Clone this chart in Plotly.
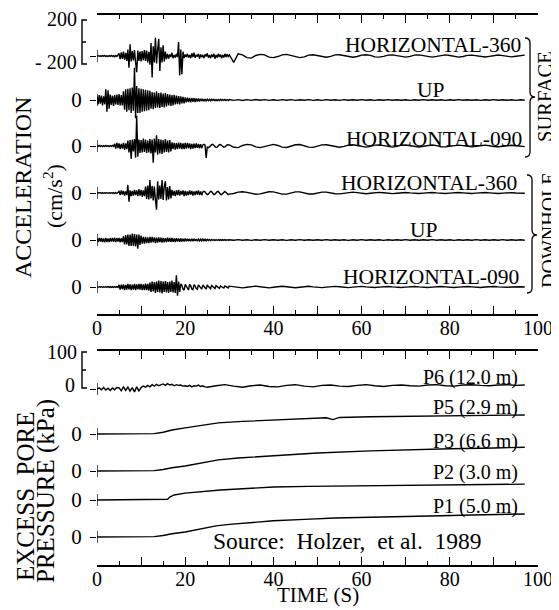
import numpy as np
import plotly.graph_objects as go

# ------------------------------------------------------------------ data
# Acceleration records (cm/s^2).
# *_FAST : samples every 0.25 s starting at 0 s (0 - 29.75 s)
# *_SLOW : samples every 1 s starting at 30 s (30 - 97 s)
FAST_STEP_S = 0.25
SLOW_START_S = 30.0
SLOW_STEP_S = 1.0

SURF_H360_FAST = [
    0, 3, -3, 2, -4, 3, -2, 4, -3, 2, -5, 4, -3, 5, -4, 3, -6, 5, -4, 6,
    25, -30, 35, -28, 40, -35, 30, -45,
    60, -110, 110, -50, 45, -40, 55, -60,
    -150, 50, -45, 40,
    -50, 45, -40, 55, -45, 50, -60, 40,
    -80, 120, -200, 90, -60, 170, -70, 60, 160, -140, 80, -60, 100, -50, 40, -30,
    20, -25, 15, -10, 30, -20, 10, -15, 20, -10, 130, -180, 60, -170, 40, -20,
    15, -10, 20, -15, 10, -20, 25, -10, 30, -15, 10, -5, 20, -25, 15, -10,
    10, -20, 15, -5, 25, -15, 10, -20, 15, -10, 20, -25, 10, -15, 20, -10,
    15, -20, 10, -15, 20, -10, 15, -5]
SURF_H360_SLOW = [
    10, -60, 20, 10, -15, -20, 5, 15, 10, -10,
    -15, -5, 10, 15, 5, -10, -15, -8, 8, 12,
    5, -8, -12, -3, 10, 12, 3, -10, -12, -5,
    8, 12, 6, -8, -10, -4, 8, 10, 4, -8,
    -10, -3, 8, 10, 2, -8, -10, -4, 6, 10,
    5, -6, -10, -5, 6, 8, 4, -6, -9, -3,
    6, 9, 3, -6, -8, -2, 6, 8]

SURF_UP_FAST = [
    35, -40, 45, -35, 40, -50, 35, -40,
    100, -110, 90, -80,
    50, -45, 40, -55, 45, -40, 50, -45, 55, -50, 45, -50,
    80, -90, 100, -110, 105, -95, 110, -120, 115, -100,
    300, -170, 130, -120,
    110, -120, 105, -110, 100, -105, 95, -100, 90, -95,
    85, -80, 75, -85, 70, -75, 80, -70, 65, -75, 70, -65, 60, -70, 65, -60,
    55, -50, 50, -55, 45, -50, 48, -42, 40, -38, 36, -40, 35, -32, 30, -32,
    25, -22, 22, -20, 20, -22, 18, -16, 16, -18, 15, -13, 13, -15, 12, -10, 10, -12, 9, -9,
    7, -6, 6, -7, 6, -5, 6, -6, 5, -6, 5, -5, 6, -5, 5, -4, 5, -5, 4, -5]
SURF_UP_SLOW = [
    4, -3, 3, -4, 3, -3, 4, -2, 3, -3,
    2, -3, 3, -2, 3, -3, 2, -2, 3, -3,
    2, -3, 3, -2, 2, -3, 3, -2, 2, -2,
    3, -2, 2, -3, 2, -2, 3, -2, 2, -2,
    2, -3, 2, -2, 3, -2, 2, -2, 2, -3,
    2, -2, 3, -2, 2, -2, 2, -3, 2, -2,
    3, -2, 2, -2, 2, -3, 2, -2]

SURF_H090_FAST = [
    3, -4, 5, -3, 4, -5, 3, -4, 5, -4, 3, -5, 4, -3, 5, -4,
    20, -25, 30, -20, 25, -30, 20, -25, 30, -35, 25, -30,
    50, -60, 55, -120, 60, -50, 65, -110,
    280, -100, 60, -65, 55, -60, 70, -55, 60, -65, 50, -60,
    65, -70, 60, -155, 70, -60, 100, -80, 65, -70, 60, -75, 55, -60, 65, -55, 50, -60, 55, -50,
    35, -30, 30, -35, 28, -30, 32, -25, 30, -28, 25, -30, 28, -25, 30, -20,
    25, -28, 20, -25, 22, -20, 25, -18, 20, -22, 18, -20,
    10, 15, 8, -110, -10, -15, -8, 5, 12, 15, 6, -8,
    -14, -10, 2, 12, 14, 6, -8, -12, -8, 4, 10, 12]
SURF_H090_SLOW = [
    10, -12, -15, 5, 15, 10, -8, -15, -5, 10,
    15, 5, -10, -14, -3, 12, 14, 2, -10, -13,
    -2, 10, 12, 3, -9, -12, -4, 8, 12, 5,
    -8, -10, -3, 8, 10, 3, -8, -10, -2, 8,
    9, 2, -7, -9, -2, 7, 9, 3, -7, -8,
    -2, 6, 8, 3, -6, -8, -2, 6, 8, 2,
    -6, -7, -1, 6, 7, 2, -5, -6]

DH_H360_FAST = [
    0, 2, -2, 3, -2, 2, -3, 2, -2, 3, -3, 2, -2, 3, -3, 4, -3, 4, -4, 3,
    15, -20, 25, -15, 20, -25, 15, -20,
    75, -80,
    25, -30, 20, -25, 30, -20, 25, -30, 35, -25, 30, -35, 25, -30,
    60, -55, 70, -60, 120, -50, 65, -70, 60, -65, -155, 110,
    -60, 70, -55, 120, -65, 60, 110, -70, 55, -60, 65, -50,
    30, -25, 20, -30, 25, -20, 30, -25, 20, -15, 25, -30, 20, -25,
    15, -20, 25, -15, 20, -25, 15, -20, 20, -15, 25, -20, 15, -20,
    10, 15, 10, -5, -15, -10, 5, 15, 12, -5, -15, -10,
    5, 12, 15, 0, -12, -15, -5, 10, 15, 5, -10, -15]
DH_H360_SLOW = [
    -10, -5, 8, 12, 6, -6, -12, -8, 4, 12,
    10, -3, -10, -10, 2, 10, 10, 0, -9, -9,
    2, 8, 8, 0, -7, -8, -2, 6, 8, 3,
    -5, -7, -3, 5, 6, 2, -4, -6, -2, 4,
    5, 1, -4, -5, -1, 4, 5, 1, -4, -5,
    -1, 3, 4, 1, -3, -4, -1, 3, 4, 1,
    -3, -4, -1, 3, 3, 0, -3, -3]

DH_UP_FAST = [
    15, -18, 20, -15, 18, -20, 15, -22, 20, -18, 15, -20,
    18, -15, 20, -18, 22, -20, 18, -15, 20, -22, 18, -20,
    35, -40, 45, -40, 50, -55, 50, -55,
    60, -55, 55, -60, 50, -80, 50, -45,
    40, -35, 30, -35,
    30, -28, 25, -30, 28, -25, 30, -22, 25, -28, 22, -25,
    25, -20, 22, -25, 20, -22, 18, -20, 22, -18, 20, -18,
    18, -16, 15, -18, 16, -15, 14, -16, 15, -13, 12, -14,
    13, -12, 12, -11, 10, -12, 11, -10, 10, -9, 9, -10,
    8, -9, 9, -8, 8, -7, 7, -8,
    6, -5, 5, -6, 5, -4, 4, -5, 4, -4, 4, -3, 3, -4, 3, -3, 3, -3, 3, -2]
DH_UP_SLOW = [
    2, -2, 3, -2, 2, -3, 2, -2, 3, -2,
    2, -2, 2, -3, 2, -2, 3, -2, 2, -2,
    2, -2, 3, -2, 2, -2, 2, -3, 2, -2,
    3, -2, 2, -2, 2, -3, 2, -2, 2, -2,
    3, -2, 2, -2, 2, -2, 3, -2, 2, -2,
    2, -3, 2, -2, 2, -2, 3, -2, 2, -2,
    2, -2, 3, -2, 2, -2, 2, -2]

DH_H090_FAST = [
    2, -3, 3, -2, 3, -3, 2, -3, 3, -2, 4, -3, 3, -4, 3, -3, 4, -4, 3, -4,
    20, -25, 22, -20, 25, -28, 20, -25, 30, -22, 25, -28, 22, -25,
    28, -30, 25, -22, 28, -25, 30, -28, 25, -30, 32, -28, 30, -35,
    40, -45, 50, -40, 45, -55, 50, -45, 60, -50, 55, -60, 50, -45,
    55, -50, 45, -55, 50, -45, 60, -50, 45, -55, 110, -80, 50, -45,
    30, 15, -20, -30, 25, 10, -15, -28, 25, 12, -18, -25,
    22, 10, -15, -22, 20, 8, -12, -20, 18, 6, -10, -18,
    16, 5, -10, -15, 14, 5, -8, -14, 12, 4, -8, -12,
    10, 4, -6, -10, 10, 3, -6, -9]
DH_H090_SLOW = [
    8, 3, -6, -8, -2, 6, 8, 2, -6, -8,
    -2, 5, 7, 2, -5, -7, -2, 5, 7, 1,
    -5, -6, -1, 4, 6, 2, -4, -6, -1, 4,
    6, 1, -4, -5, -1, 4, 5, 1, -4, -5,
    -1, 3, 5, 1, -3, -4, -1, 3, 4, 1,
    -3, -4, -1, 3, 4, 1, -3, -4, 0, 3,
    4, 1, -3, -3, 0, 3, 3, 0]

ACC_RECORDS = [
    (SURF_H360_FAST, SURF_H360_SLOW),
    (SURF_UP_FAST, SURF_UP_SLOW),
    (SURF_H090_FAST, SURF_H090_SLOW),
    (DH_H360_FAST, DH_H360_SLOW),
    (DH_UP_FAST, DH_UP_SLOW),
    (DH_H090_FAST, DH_H090_SLOW),
]
ACC_LABELS = ["HORIZONTAL-360", "UP", "HORIZONTAL-090",
              "HORIZONTAL-360", "UP", "HORIZONTAL-090"]
ACC_ZERO_TEXT = [" ", "0", "0", "0", "0", "0"]

# Excess pore pressure records (kPa): times (s) and values
P6_FAST_STEP_S = 0.5          # 0 - 24.5 s
P6_SLOW_START_S, P6_SLOW_STEP_S = 25.0, 2.0   # 25 - 97 s
P6_FAST = [
    0, 3, -2, 4, -3, 2, -4, 3, -2, 4,
    3, -5, 6, -4, 5, -6, 4, -8, 6, -5,
    4, 8, 5, 10, 6, 12, 8, 13, 9, 12,
    14, 10, 15, 11, 13, 9, 12, 10, 11, 8,
    9, 7, 10, 6, 9, 8, 11, 7, 9, 6]
P6_SLOW = [5, 9, 12, 8, 5, 9, 11, 7, 6, 10, 12, 8, 6, 10, 11, 8, 7, 10, 12, 9,
           7, 10, 11, 9, 8, 11, 12, 9, 8, 11, 12, 10, 9, 11, 12, 10, 11]

P5_T = [0, 5, 10, 13, 15, 17, 20, 24, 27.5, 33, 40, 47, 52, 53.5, 55, 62, 75, 85, 97]
P5_V = [0, 0, 1, 1, 5, 11, 17, 25, 31, 35, 39, 42, 45, 40, 46, 48, 50, 52, 53]
P3_T = [0, 5, 10, 13, 15, 17, 20, 24, 27.5, 32, 40, 50, 62, 70, 80, 90, 97]
P3_V = [0, 0, 1, 1, 4, 9, 14, 23, 31, 36, 42, 50, 56, 59, 62, 64, 66]
P2_T = [0, 5, 10, 15, 16, 16.5, 17.5, 20, 24, 28, 34, 40, 48, 55, 65, 75, 85, 97]
P2_V = [0, 0, 1, 1, 2, 8, 14, 19, 24, 28, 32, 36, 38, 39, 41, 42, 43, 44]
P1_T = [0, 5, 10, 13, 15, 17, 20, 24, 27, 30, 34, 40, 47, 54, 62, 70, 78, 85, 92, 97]
P1_V = [0, 0, 1, 1, 4, 9, 14, 23, 31, 35, 39, 45, 49, 53, 55, 56, 59, 61, 63, 64]

PORE_LABELS = ["P6 (12.0 m)", "P5 (2.9 m)", "P3 (6.6 m)", "P2 (3.0 m)", "P1 (5.0 m)"]
PORE_ZERO_TEXT = [" ", "0", "0", "0", "0"]

X_TICK_VALUES = [0, 10, 20, 30, 40, 50, 60, 70, 80, 90, 100]
X_TICK_TEXT = ["0", " ", "20", " ", "40", " ", "60", " ", "80", " ", "100"]
X_MINOR_VALUES = [5, 15, 25, 35, 45, 55, 65, 75, 85, 95]

# ------------------------------------------------------------------ layout (page pixels)
PAGE_W, PAGE_H = 559, 610
BODY_MARGIN = 8                       # default page margin around the plot div
W, H = PAGE_W - BODY_MARGIN, PAGE_H - BODY_MARGIN
X_LEFT_PX, X_RIGHT_PX = 97, 538
ACC_TOP_PX, ACC_BOT_PX = 15, 314
PORE_TOP_PX, PORE_BOT_PX = 351, 565
ACC_BASE_PX = [56, 100, 146, 193, 240, 287]
PORE_BASE_PX = [389, 434, 471, 500, 537]
ACC_PER_PX = 9.3      # cm/s^2 per pixel (200 bracket)
KPA_PER_PX = 2.78     # kPa per pixel (100 bracket)
ACC_LABEL_POS = [(433, 45), (431, 90), (434, 139), (429, 183), (424, 230), (431, 277)]
PORE_LABEL_RIGHT = 520
PORE_LABEL_Y = [377, 407, 441, 472, 506]

FONT = "Liberation Serif"
BLACK = "black"


def px(x):
    return (x - BODY_MARGIN) / W


def py(y):
    return 1 - (y - BODY_MARGIN) / H


acc_offsets = [(ACC_BOT_PX - b) * ACC_PER_PX for b in ACC_BASE_PX]
pore_offsets = [(PORE_BOT_PX - b) * KPA_PER_PX for b in PORE_BASE_PX]

fig = go.Figure()

for (fast, slow), off in zip(ACC_RECORDS, acc_offsets):
    t = np.concatenate([np.arange(len(fast)) * FAST_STEP_S,
                        SLOW_START_S + np.arange(len(slow)) * SLOW_STEP_S])
    v = np.concatenate([np.asarray(fast, float), np.asarray(slow, float)])
    fig.add_trace(go.Scatter(x=t, y=v + off, mode="lines",
                             line=dict(color=BLACK, width=1.4),
                             xaxis="x", yaxis="y", hoverinfo="skip"))

p6_t = np.concatenate([np.arange(len(P6_FAST)) * P6_FAST_STEP_S,
                       P6_SLOW_START_S + np.arange(len(P6_SLOW)) * P6_SLOW_STEP_S])
p6_v = np.concatenate([np.asarray(P6_FAST, float), np.asarray(P6_SLOW, float)])
pore_records = [(p6_t, p6_v), (P5_T, P5_V), (P3_T, P3_V), (P2_T, P2_V), (P1_T, P1_V)]
for (t, v), off in zip(pore_records, pore_offsets):
    fig.add_trace(go.Scatter(x=t, y=np.asarray(v, float) + off, mode="lines",
                             line=dict(color=BLACK, width=1.4),
                             xaxis="x2", yaxis="y2", hoverinfo="skip"))

xtickfont = dict(family=FONT, size=20, color=BLACK)
ytickfont = dict(family=FONT, size=21, color=BLACK)


def xaxis_cfg(anchor):
    return dict(domain=[px(X_LEFT_PX), px(X_RIGHT_PX)], range=[0, 100], anchor=anchor,
                automargin=False,
                showline=True, linecolor=BLACK, linewidth=1.5, mirror="ticks",
                ticks="inside", ticklen=8, tickwidth=1.3, tickcolor=BLACK,
                tickmode="array", tickvals=X_TICK_VALUES, ticktext=X_TICK_TEXT,
                ticklabelstandoff=-5,
                minor=dict(ticks="inside", ticklen=4, tickwidth=1.3, tickcolor=BLACK,
                           tickmode="array", tickvals=X_MINOR_VALUES),
                showgrid=False, zeroline=False, tickfont=xtickfont, fixedrange=True)


def yaxis_cfg(anchor, top_px, bot_px, per_px, vals, texts):
    return dict(domain=[py(bot_px), py(top_px)], range=[0, (bot_px - top_px) * per_px],
                anchor=anchor, automargin=False,
                showline=False, showgrid=False, zeroline=False,
                ticks="outside", ticklen=6, tickwidth=1.3, tickcolor=BLACK,
                tickmode="array", tickvals=vals, ticktext=texts,
                ticklabelstandoff=4,
                tickfont=ytickfont, fixedrange=True)


shapes = []
# short vertical marks at the origin of each record
for off in acc_offsets:
    shapes.append(dict(type="line", xref="x", yref="y", x0=0, x1=0,
                       y0=off - 6 * ACC_PER_PX, y1=off + 6 * ACC_PER_PX,
                       line=dict(color=BLACK, width=1.3)))
for off in pore_offsets:
    shapes.append(dict(type="line", xref="x2", yref="y2", x0=0, x1=0,
                       y0=off - 6 * KPA_PER_PX, y1=off + 6 * KPA_PER_PX,
                       line=dict(color=BLACK, width=1.3)))


def bracket(x, y0, y1, ym):
    p = (f"M {px(x + 5)},{py(y0)} L {px(x)},{py(y0)} L {px(x)},{py(y1)} L {px(x + 5)},{py(y1)} "
         f"M {px(x)},{py(ym)} L {px(x + 4)},{py(ym)}")
    return dict(type="path", xref="paper", yref="paper", path=p,
                line=dict(color=BLACK, width=1.4))


def brace(x, y0, y1, ym, w):
    h = w / 2
    pts = [
        f"M {px(x)},{py(y0)}",
        f"Q {px(x + h)},{py(y0)} {px(x + h)},{py(y0 + h)}",
        f"L {px(x + h)},{py(ym - h)}",
        f"Q {px(x + h)},{py(ym)} {px(x + w)},{py(ym)}",
        f"Q {px(x + h)},{py(ym)} {px(x + h)},{py(ym + h)}",
        f"L {px(x + h)},{py(y1 - h)}",
        f"Q {px(x + h)},{py(y1)} {px(x)},{py(y1)}",
    ]
    return dict(type="path", xref="paper", yref="paper", path=" ".join(pts),
                line=dict(color=BLACK, width=1.3))


shapes.append(bracket(82, 20, 64, 42))
shapes.append(bracket(82, 352, 388, 370))
shapes.append(brace(525, 38, 157, 97, 10))
shapes.append(brace(527, 175, 293, 235, 10))

ann = []


def text(s, x, y, size, xanchor="center", angle=0, yanchor="middle"):
    ann.append(dict(text=s, x=px(x), y=py(y), xref="paper", yref="paper",
                    xanchor=xanchor, yanchor=yanchor, showarrow=False, textangle=angle,
                    font=dict(family=FONT, size=size, color=BLACK)))


for lab, (lx, ly) in zip(ACC_LABELS, ACC_LABEL_POS):
    text(lab, lx, ly, 21.5)
for lab, ly in zip(PORE_LABELS, PORE_LABEL_Y):
    text(lab, PORE_LABEL_RIGHT, ly, 20, xanchor="right")

text("200", 79, 19, 20, xanchor="right")
text("- 200", 79, 62, 20, xanchor="right")
text("100", 79, 352, 20, xanchor="right")
text("0", 77, 385, 20, xanchor="right")

text("SURFACE", 545, 97, 20.5, angle=-90)
text("DOWNHOLE", 549, 230, 20, angle=-90)
text("ACCELERATION", 23, 188, 24, angle=-90)
text("(cm/s<sup>2</sup>)", 53, 196, 22, angle=-90)
text("EXCESS\u00a0\u00a0PORE", 25, 497, 25, angle=-90)
text("PRESSURE (kPa)", 46, 491, 25, angle=-90)
text("Source:\u00a0 Holzer,\u00a0 et al.\u00a0 1989", 347, 541, 23.5)
text("TIME (S)", 318, 609, 21, yanchor="bottom")

fig.update_layout(
    width=W, height=H, margin=dict(l=0, r=0, t=0, b=0, autoexpand=False),
    paper_bgcolor="white", plot_bgcolor="white", showlegend=False,
    xaxis=xaxis_cfg("y"),
    yaxis=yaxis_cfg("x", ACC_TOP_PX, ACC_BOT_PX, ACC_PER_PX, acc_offsets, ACC_ZERO_TEXT),
    xaxis2=xaxis_cfg("y2"),
    yaxis2=yaxis_cfg("x2", PORE_TOP_PX, PORE_BOT_PX, KPA_PER_PX, pore_offsets, PORE_ZERO_TEXT),
    shapes=shapes, annotations=ann,
)

fig.write_html("out.html")
